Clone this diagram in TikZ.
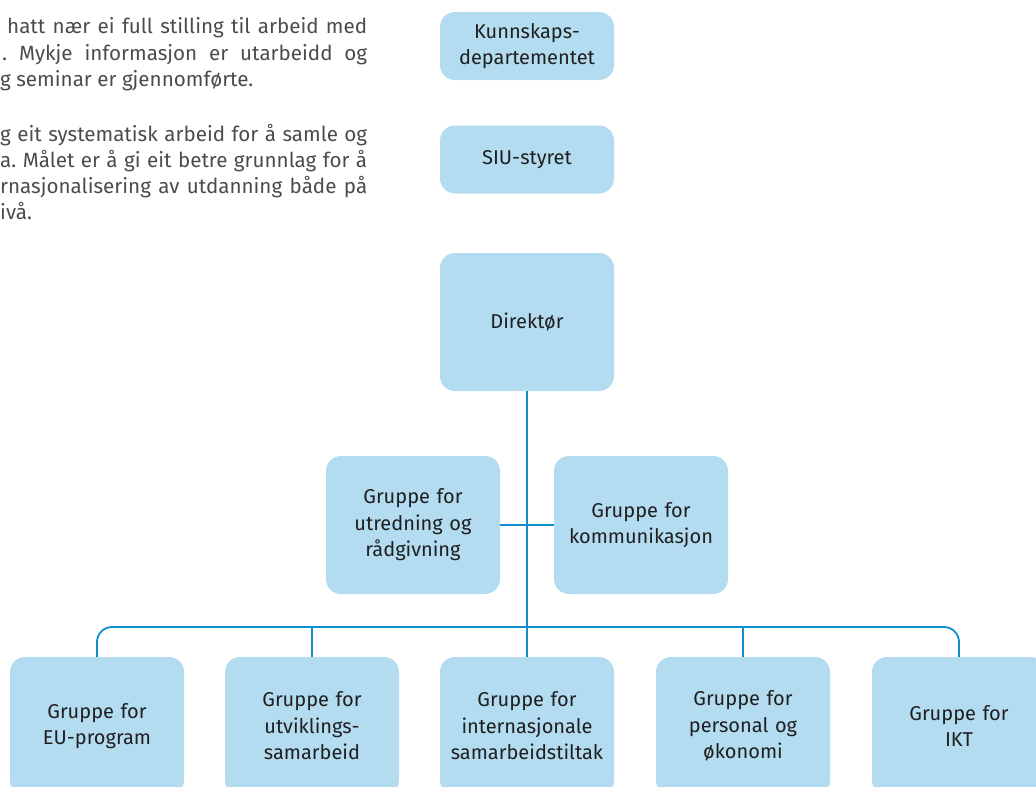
\documentclass[tikz,border=0pt]{standalone}
\usepackage{fontspec}
\setmainfont{Fira Sans}
\usepackage{tikz}
\usetikzlibrary{positioning}

\definecolor{unitfill}{RGB}{180,220,241}
\definecolor{orgline}{RGB}{16,143,206}
\definecolor{bodytext}{RGB}{75,75,75}

\begin{document}
\frenchspacing
\begin{tikzpicture}[x=1pt, y=-1pt,
    unit/.style={rectangle, fill=unitfill, rounded corners=15pt, minimum width=174pt, minimum height=138pt, inner sep=0pt, text width=172pt, align=center, text=black!88, font=\fontsize{20}{26.5}\selectfont},
    smallunit/.style={unit, minimum height=68pt},
    link/.style={draw=orgline, line width=1.8pt},
    bodyline/.style={anchor=base west, inner sep=0pt, text=bodytext, font=\fontsize{20.6}{26}\selectfont}]
    \useasboundingbox (0,0) rectangle (1036,787);

    % Running text, cut at the left edge
    \node[bodyline] (txt1) at (7,33) {\makebox[360pt][s]{hatt nær ei full stilling til arbeid med}};
    \node[bodyline] (txt2) at (2,60) {\makebox[365pt][s]{. Mykje informasjon er utarbeidd og}};
    \node[bodyline] (txt3) at (0,86) {g seminar er gjennomførte.};
    \node[bodyline] (txt4) at (0,141) {\makebox[367pt][s]{g eit systematisk arbeid for å samle og}};
    \node[bodyline] (txt5) at (0,167) {\makebox[367pt][s]{a. Målet er å gi eit betre grunnlag for å}};
    \node[bodyline] (txt6) at (0,193) {\makebox[367pt][s]{rnasjonalisering av utdanning både på}};
    \node[bodyline] (txt7) at (0,219) {ivå.};

    % Top of the chart
    \node[smallunit] (dept) at (527,46) {Kunnskaps-\\departementet};
    \node[smallunit] (board) at (527,159.5) {SIU-styret};
    \node[unit] (dir) at (527,322) {Direktør};

    % Staff groups
    \node[unit] (utr) at (413,525) {Gruppe for\\utredning og\\rådgivning};
    \node[unit] (komm) at (641,525) {Gruppe for\\kommunikasjon};

    % Line groups
    \node[unit] (eu) at (97,726) {Gruppe for\\EU-program};
    \node[unit] (utv) at (312,726) {Gruppe for\\utviklings-\\samarbeid};
    \node[unit] (int) at (527,726) {Gruppe for\\internasjonale\\samarbeidstiltak};
    \node[unit] (pers) at (743,726) {Gruppe for\\personal og\\økonomi};
    \node[unit] (ikt) at (959,726) {Gruppe for\\IKT};

    % Connectors
    \coordinate (bus) at (527,627);
    \draw[link] (dir) -- (int);
    \draw[link] (utr) -- (komm);
    \draw[link, rounded corners=15pt] (eu) |- (bus) -| (ikt);
    \draw[link] (utv) -- (utv |- bus);
    \draw[link] (pers) -- (pers |- bus);
\end{tikzpicture}
\end{document}
